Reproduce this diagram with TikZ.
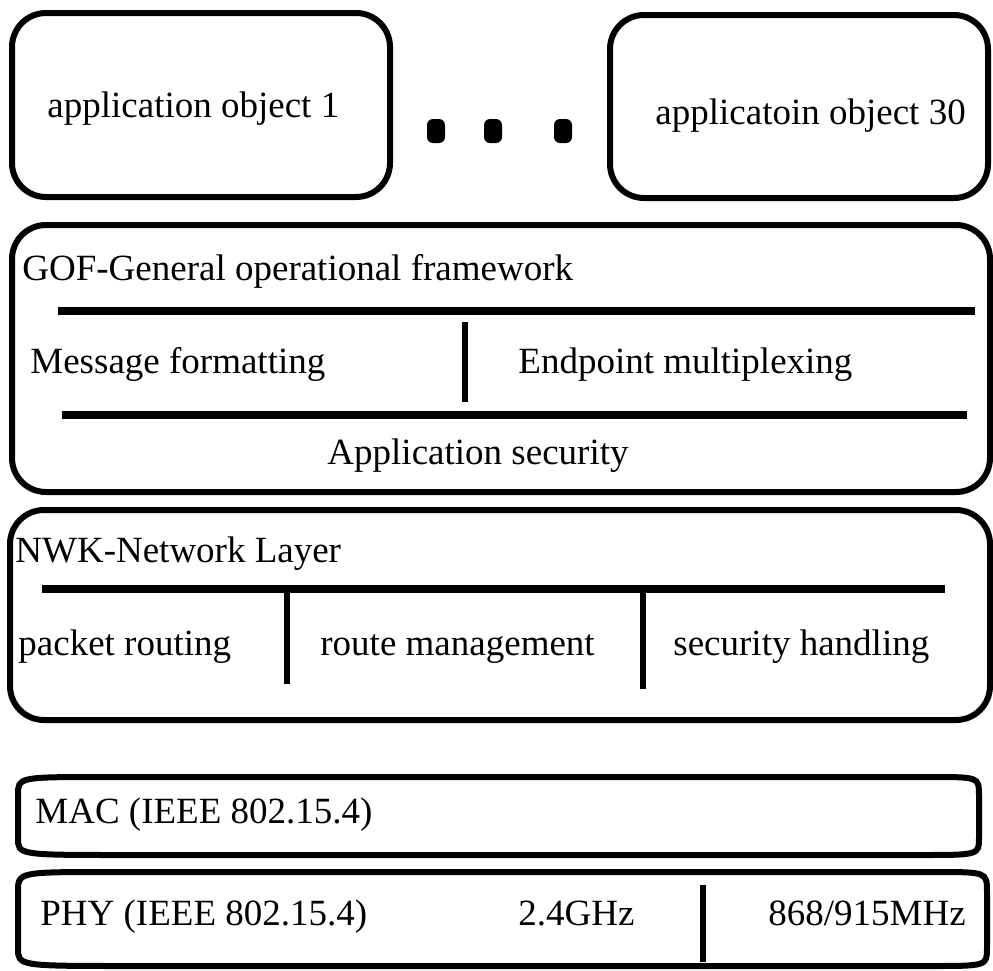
\documentclass[tikz,border=0pt]{standalone}
\usepackage{fontspec}
\setmainfont{Liberation Serif}
\begin{document}
\begin{tikzpicture}[x=.5pt,y=-.5pt,every node/.style={inner sep=0pt,anchor=base west,font=\fontsize{18.5}{22}\selectfont},
 box/.style={draw,anchor=center,line width=3pt,rounded corners=17pt},dot/.style={fill,anchor=center,rounded corners=3pt,minimum width=9pt,minimum height=12pt},
 bar/.style={line width=3.6pt},sep/.style={line width=2.6pt}]
\useasboundingbox (0,0) rectangle (993,971);
\node[box,minimum width=189pt,minimum height=92pt] (app1) at (201,105) {};\node (app1t) at (47,117) {application object 1};
\foreach \x [count=\i] in {436,493,563}{\node[dot] (dot\i) at (\x,131) {};}
\node[box,minimum width=189pt,minimum height=91.5pt] (app30) at (799,106.5) {};\node (app30t) at (655,124) {applicatoin object 30};
\node[box,minimum width=489pt,minimum height=133.5pt] (gof) at (501,358.5) {};
\node (goft) at (22,280) {GOF-General operational framework};
\draw[bar] (58,311)--(975,311);\draw[sep] (465,322)--(465,402);\draw[bar] (62,415)--(967,415);
\node (msg) at (30,373) {Message formatting};\node (ep) at (518,373) {Endpoint multiplexing};
\node[anchor=base] (sec) at (478,464) {Application security};
\node[box,minimum width=490pt,minimum height=105pt] (nwk) at (500,615) {};
\node (nwkt) at (15,562) {NWK-Network Layer};
\draw[bar] (42,589)--(945,589);\draw[sep] (287,592)--(287,684);\draw[sep] (643,592)--(643,689);
\node (pr) at (18,655) {packet routing};\node (rm) at (320,655) {route management};\node (sh) at (673,655) {security handling};
\draw[line width=3pt] (105,777)--(930,777) .. controls (979,777) .. (979,795)--(979,838) .. controls (979,855) .. (920,855)--(125,855) .. controls (18,855) .. (18,838)--(18,795) .. controls (18,777) .. (105,777)--cycle;
\node (mac) at (35,823) {MAC (IEEE 802.15.4)};
\draw[line width=3pt] (110,872)--(935,872) .. controls (987,872) .. (987,892)--(987,948) .. controls (987,966) .. (930,966)--(130,966) .. controls (18,966) .. (18,948)--(18,892) .. controls (18,872) .. (110,872)--cycle;
\node (phy) at (40,925) {PHY (IEEE 802.15.4)};\node (ghz) at (518,925) {2.4GHz};
\draw[sep] (703,885)--(703,962);\node (mhz) at (768,925) {868/915MHz};
\end{tikzpicture}
\end{document}
